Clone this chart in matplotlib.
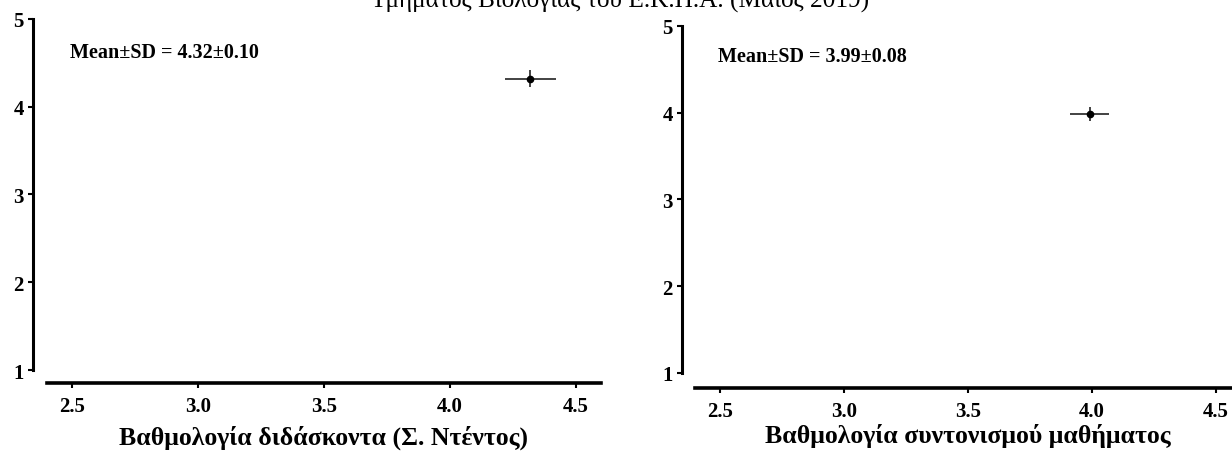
import matplotlib
matplotlib.use("Agg")
import matplotlib.pyplot as plt

# data
titles_x = ["Βαθμολογία διδάσκοντα (Σ. Ντέντος)", "Βαθμολογία συντονισμού μαθήματος"]
means = [4.32, 3.99]
sds = [0.10, 0.08]
x_ticks = [2.5, 3.0, 3.5, 4.0, 4.5]
y_ticks = [1, 2, 3, 4, 5]
suptitle = "Τμήματος Βιολογίας του Ε.Κ.Π.Α. (Μάιος 2019)"

plt.rcParams['font.family'] = ['Liberation Serif', 'DejaVu Serif']

fig = plt.figure(figsize=(12.32, 4.52), dpi=100)

# [left, bottom, width, height] in figure fractions, plus spine offsets (pt)
boxes = [
    ([0.0381, 0.1792, 0.4497, 0.7766], 10.1, 9.4),
    ([0.5641, 0.1726, 0.4432, 0.7677], 9.4, 10.8),
]
text_pos = [(0.042, 0.906), (0.042, 0.914)]
label_pads = [6, 1.5]

for i, (box, off_l, off_b) in enumerate(boxes):
    ax = fig.add_axes(box)
    ax.errorbar([means[i]], [means[i]], xerr=[sds[i]], yerr=[sds[i]],
                fmt='o', color='black', ecolor='#222222', elinewidth=1.2,
                markersize=4.5, capsize=0)
    ax.set_xlim(2.4, 4.6)
    ax.set_ylim(1, 5)
    ax.set_xticks(x_ticks)
    ax.set_xticklabels([f"{v:.1f}" for v in x_ticks])
    ax.set_yticks(y_ticks)
    for s in ['top', 'right']:
        ax.spines[s].set_visible(False)
    ax.spines['left'].set_position(('outward', off_l))
    ax.spines['bottom'].set_position(('outward', off_b))
    ax.spines['left'].set_linewidth(2.2)
    ax.spines['bottom'].set_linewidth(2.6)
    ax.tick_params(axis='both', direction='out', length=3.5, width=1.5,
                   labelsize=15, pad=3)
    ax.tick_params(axis='x', pad=6)
    for lab in ax.get_xticklabels() + ax.get_yticklabels():
        lab.set_fontweight('bold')
    ax.set_xlabel(titles_x[i], fontsize=18.5, fontweight='bold',
                  labelpad=label_pads[i])
    tx, ty = text_pos[i]
    ax.text(tx, ty, f"Mean\u00b1SD = {means[i]:.2f}\u00b1{sds[i]:.2f}",
            transform=ax.transAxes, fontsize=14.5, fontweight='bold',
            ha='left', va='center')
    ax.set_facecolor('none')

fig.text(0.503, 1 - 7 / 452, suptitle, ha='center', va='baseline', fontsize=18.2)

fig.savefig("out.png", dpi=100)
